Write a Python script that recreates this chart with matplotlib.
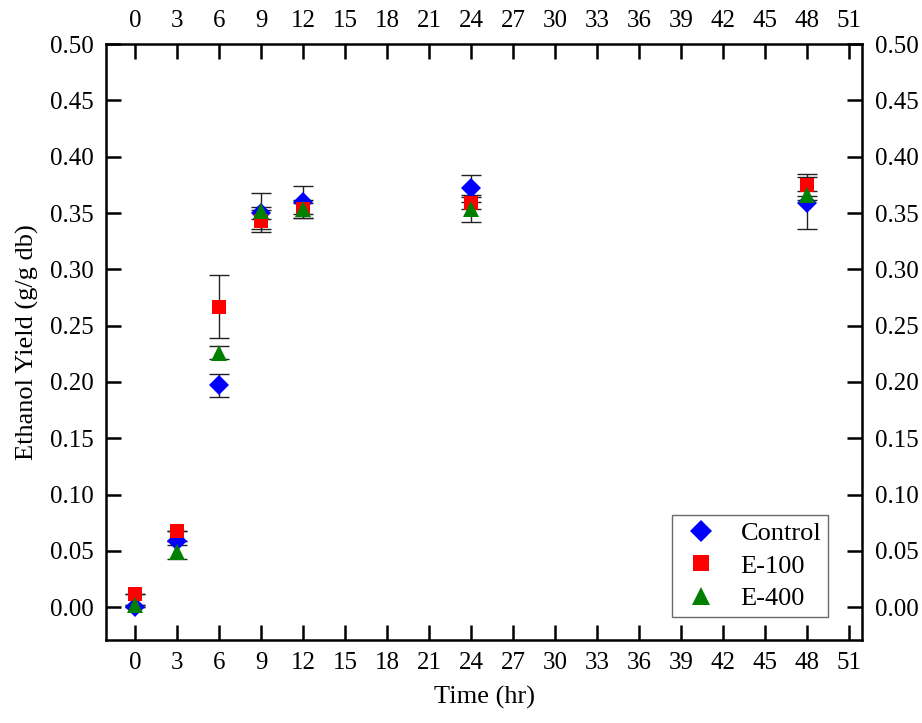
import matplotlib
matplotlib.use("Agg")
import matplotlib.pyplot as plt
import numpy as np

time = [0, 3, 6, 9, 12, 24, 48]
control = [0.000, 0.059, 0.197, 0.350, 0.360, 0.372, 0.359]
control_err = [0.000, 0.000, 0.010, 0.005, 0.014, 0.012, 0.023]
e100 = [0.012, 0.068, 0.267, 0.343, 0.354, 0.359, 0.375]
e100_err = [0.000, 0.000, 0.028, 0.010, 0.008, 0.005, 0.010]
e400 = [0.002, 0.049, 0.226, 0.352, 0.354, 0.354, 0.366]
e400_err = [0.000, 0.006, 0.006, 0.016, 0.005, 0.012, 0.004]

xticks = list(range(0, 52, 3))
yticks = [0.00, 0.05, 0.10, 0.15, 0.20, 0.25, 0.30, 0.35, 0.40, 0.45, 0.50]

plt.rcParams['font.family'] = ['Liberation Serif', 'DejaVu Serif']

fig = plt.figure(figsize=(9.22, 7.23), dpi=100)
ax = fig.add_axes([0.115, 0.115, 0.82, 0.824])

series = [
    (control, control_err, 'D', 'blue', 'Control', 10),
    (e100, e100_err, 's', 'red', 'E-100', 10),
    (e400, e400_err, '^', 'green', 'E-400', 12),
]
for y, err, mk, col, lab, ms in series:
    ax.errorbar(time, y, yerr=err, fmt='none', ecolor='#222222', elinewidth=1,
                capsize=7, capthick=1, zorder=2)
for y, err, mk, col, lab, ms in series:
    ax.plot(time, y, linestyle='none', marker=mk, color=col, markersize=ms,
            markeredgewidth=0, label=lab, zorder=3)

ax.set_xlim(-2.1, 51.9)
ax.set_ylim(-0.029, 0.5)
ax.set_xticks(xticks)
ax.set_yticks(yticks)
ax.set_yticklabels([f"{v:.2f}" for v in yticks])
ax.tick_params(direction='in', length=11, width=1.8, labelsize=18,
               top=True, right=True, labeltop=True, labelright=True, pad=9)
for s in ax.spines.values():
    s.set_linewidth(1.8)

ax.set_xlabel('Time (hr)', fontsize=19, labelpad=8)
ax.set_ylabel('Ethanol Yield (g/g db)', fontsize=19, labelpad=8)

leg = ax.legend(loc='lower right', fontsize=19, frameon=True, fancybox=False,
                edgecolor='#444444', borderpad=0.25, handletextpad=0.65,
                labelspacing=0.35, bbox_to_anchor=(0.955, 0.0386),
                borderaxespad=0, handlelength=1.7, markerscale=1.1)
leg.get_frame().set_linewidth(1.0)

fig.savefig('out.png', dpi=100)
